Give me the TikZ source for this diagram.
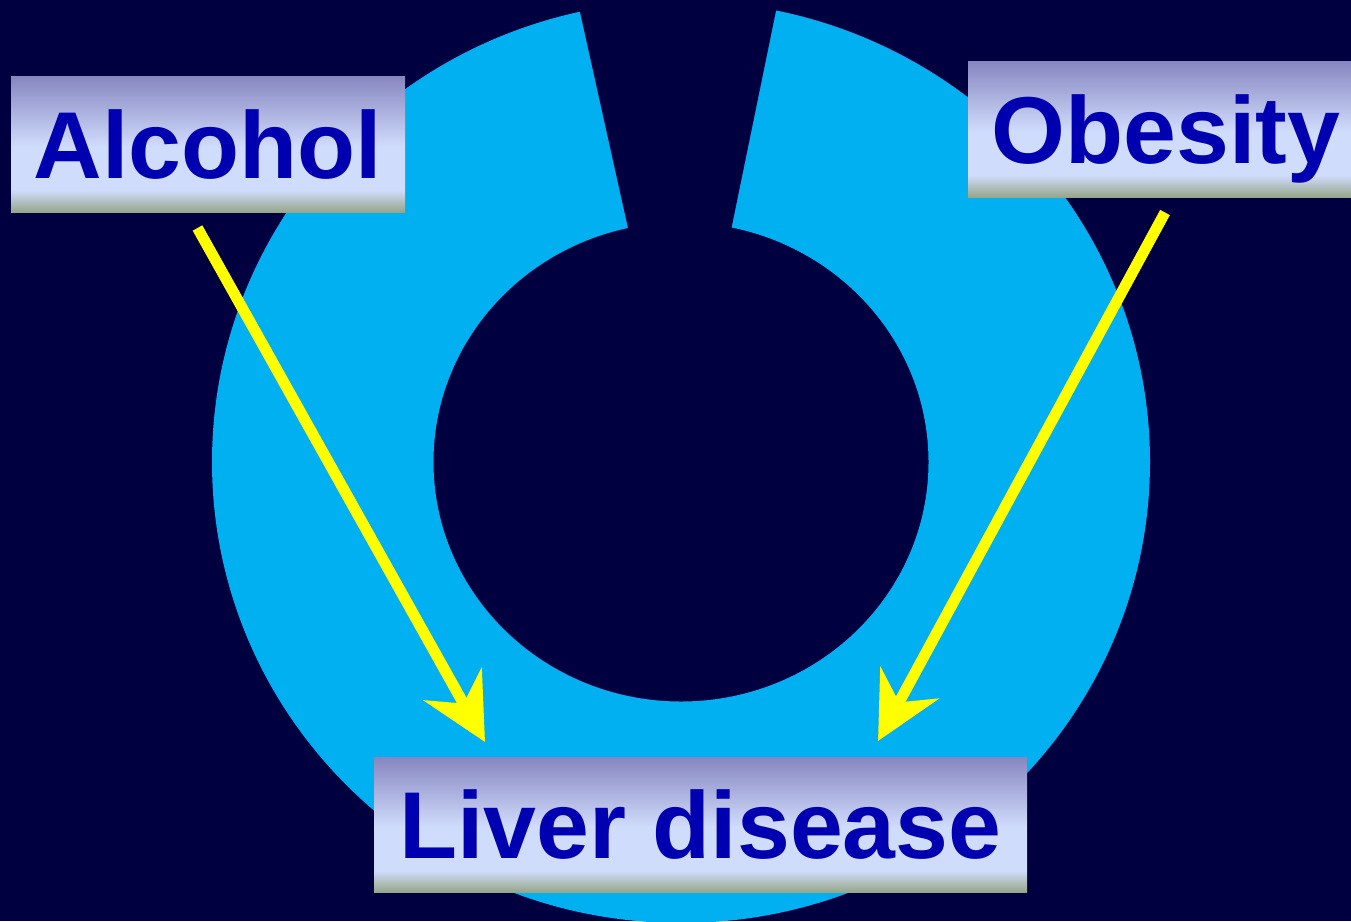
\documentclass[tikz,border=0pt]{standalone}
\usepackage{fontspec}
\setmainfont{Liberation Sans}
\usetikzlibrary{arrows.meta}
\definecolor{bg}{HTML}{000040}
\definecolor{ringc}{HTML}{00B0F0}
\definecolor{txt}{HTML}{0000B0}
\definecolor{arrc}{HTML}{FFFF00}
\definecolor{btop}{RGB}{134,134,192}
\definecolor{blight}{RGB}{208,220,252}
\definecolor{bbot}{RGB}{150,166,138}
\pgfdeclareverticalshading{boxshade}{100bp}{color(0bp)=(bbot); color(25bp)=(bbot); color(33bp)=(blight); color(49bp)=(blight); color(75bp)=(btop); color(100bp)=(btop)}
\tikzset{
  lbl/.style={shading=boxshade, inner sep=0pt, text=txt,
    font=\fontsize{95}{95}\selectfont\bfseries, text height=68pt, text depth=0pt},
  arr/.style={draw=arrc, line width=11pt, -{Stealth[length=66pt,width=66pt,inset=22pt]}}
}
\begin{document}
\begin{tikzpicture}[x=1pt,y=-1pt]
\clip (0,0) rectangle (1351,921);
\fill[bg] (0,0) rectangle (1351,921);
% ring
\fill[ringc, even odd rule] (681,462) ellipse [x radius=469, y radius=461]
  (681,462) ellipse [x radius=247.5, y radius=239.5];
% gap
\fill[bg] (572.9,-20) -- (782.3,-20) -- (683.5,462) -- (680,462) -- cycle;
% labels
\node[lbl, minimum width=394pt, minimum height=136pt] (alc) at (208,144) {Alcohol};
\node[lbl, minimum width=396pt, minimum height=136pt] (obe) at (1166,129) {Obesity};
\node[lbl, minimum width=653pt, minimum height=135pt] (liv) at (700.5,824.5) {Liver disease};
% arrows
\coordinate (a1s) at (197.5,228);
\coordinate (a1e) at (485,742);
\coordinate (a2s) at (1165,212.5);
\coordinate (a2e) at (878,741);
\draw[arr] (a1s) -- (a1e);
\draw[arr] (a2s) -- (a2e);
\end{tikzpicture}
\end{document}
